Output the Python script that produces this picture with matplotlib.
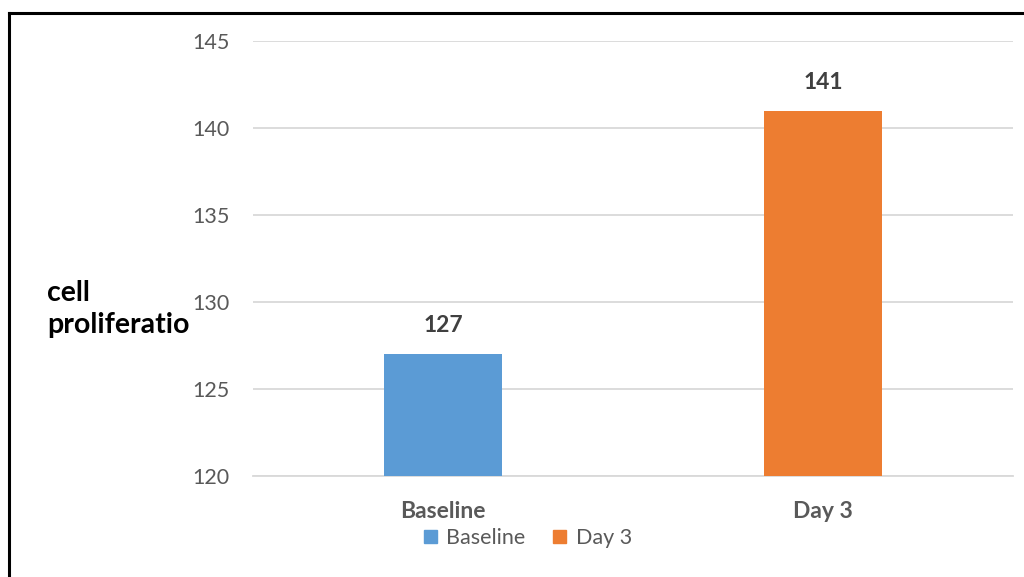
#python 3
# cell proliferation bar chart: Baseline vs Day 3

import matplotlib.pyplot as plt
from matplotlib.lines import Line2D
from matplotlib.patches import Patch

categories = ['Baseline', 'Day 3']
values = [127, 141]
colors = ['#5B9BD5', '#ED7D31']
yticks = [120, 125, 130, 135, 140, 145]

plt.rcParams['font.family'] = ['Lato', 'DejaVu Sans']

fig = plt.figure(figsize=(10.24, 5.77), dpi=100)
ax = fig.add_axes([253/1024, 1-476/577, 760/1024, 435/577])

x = range(len(categories))
bars = ax.bar(x, values, width=0.313, color=colors, bottom=0, zorder=3)
ax.set_xlim(-0.5, 1.5)
ax.set_ylim(120, 145)
ax.set_yticks(yticks)
ax.set_yticklabels([str(t) for t in yticks], fontsize=15.5, color='#595959')
ax.set_xticks(list(x))
ax.set_xticklabels(categories, fontsize=16.5, fontweight='bold', color='#595959')
ax.tick_params(axis='both', length=0)
ax.tick_params(axis='y', pad=17)
ax.tick_params(axis='x', pad=18)
ax.grid(axis='y', color='#D9D9D9', linewidth=1.3, zorder=0)
for s in ['top', 'right', 'left']:
    ax.spines[s].set_visible(False)
ax.spines['bottom'].set_color('#D9D9D9')
ax.spines['bottom'].set_linewidth(1.3)

for i, v in enumerate(values):
    ax.annotate(str(v), (i, v), xytext=(0, 13), textcoords='offset points',
                ha='center', va='bottom', fontsize=16.5, fontweight='bold', color='#404040')

# y label as in the original (cut off)
fig.text(47/1024, 1-309/577, 'cell\nproliferatio', fontsize=20.5, fontweight='bold',
         color='black', ha='left', va='center', linespacing=1.25)

handles = [Patch(color=c) for c in colors]
fig.legend(handles, categories, loc='center', bbox_to_anchor=(528/1024, 1-538/577),
           ncol=2, frameon=False, fontsize=15.5, labelcolor='#595959',
           handlelength=0.6, handleheight=0.6, handletextpad=0.45, columnspacing=1.3)

# outer frame (top and left edge)
fig.add_artist(Line2D([9/1024, 1], [1-13/577, 1-13/577], color='black', linewidth=2.2))
fig.add_artist(Line2D([9/1024, 9/1024], [0, 1-13/577], color='black', linewidth=2.2))

plt.savefig('out.png', dpi=100)
